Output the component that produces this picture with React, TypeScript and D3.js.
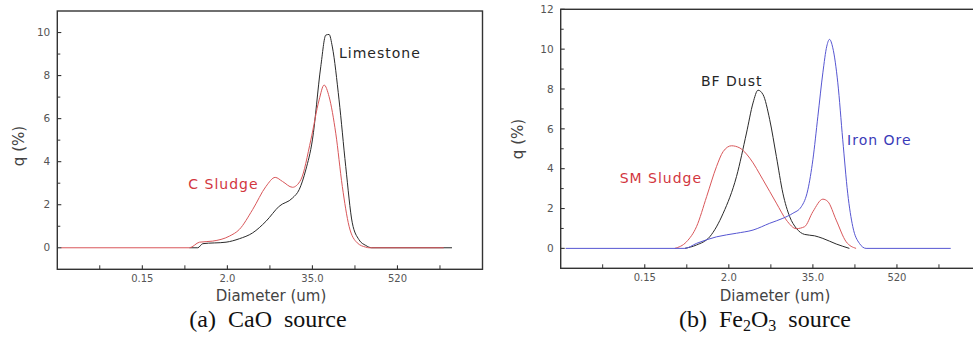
import React from "react";
import * as d3 from "d3";

// ---------- data ----------
const xTickValues = [0.15, 2.0, 35.0, 520];
const xTickLabels = ["0.15", "2.0", "35.0", "520"];
const xMinorTicks = [0.041, 0.548, 8.37, 135, 2004];

// Panel (a) CaO source
const limestoneD = [0.631, 0.812, 0.945, 1.92, 2.99, 4.67, 7.33, 11.45, 17.9, 22.4, 28.0, 35.0, 45.6, 53.5, 59.4, 65.9, 81.5, 100.7, 124, 153, 190, 229, 2935];
const limestoneQ = [0, 0, 0.19, 0.26, 0.42, 0.69, 1.23, 1.93, 2.31, 2.7, 3.62, 5.01, 8.41, 9.88, 9.91, 9.33, 6.87, 3.78, 1.16, 0.38, 0.11, 0, 0];

const cSludgeD = [0.01255, 0.631, 0.855, 1.28, 2.14, 2.99, 4.67, 7.33, 10.0, 12.8, 17.9, 23.7, 33.2, 43.3, 50.7, 59.4, 73.4, 90.4, 112, 145, 190, 210, 2258];
const cSludgeQ = [0, 0, 0.26, 0.31, 0.54, 0.85, 1.77, 2.85, 3.27, 3.08, 2.81, 3.16, 5.01, 6.87, 7.56, 7.02, 5.32, 2.85, 1.0, 0.23, 0.03, 0, 0];

// Panel (b) Fe2O3 source
const bfDustD = [0.515, 0.739, 1.11, 1.68, 2.6, 3.65, 4.56, 5.41, 6.41, 8.05, 10.1, 12.6, 15.9, 19.9, 26.4, 37.0, 48.2, 74.0, 113];
const bfDustQ = [0, 0.17, 0.58, 1.76, 3.61, 5.79, 7.3, 7.94, 7.72, 6.46, 4.61, 2.77, 1.59, 1.01, 0.7, 0.63, 0.5, 0.22, 0];

const smSludgeD = [0.378, 0.543, 0.739, 1.01, 1.37, 1.68, 2.19, 2.91, 4.08, 6.41, 10.1, 14.2, 19.9, 26.4, 35.0, 48.2, 56.6, 74.0, 102, 140];
const smSludgeQ = [0, 0.33, 1.09, 2.6, 4.11, 4.86, 5.15, 5.04, 4.53, 3.44, 2.27, 1.42, 0.99, 1.09, 1.84, 2.47, 2.35, 1.42, 0.33, 0];

const ironOreD = [0.0131, 0.515, 0.739, 1.37, 2.6, 4.56, 8.05, 12.6, 17.7, 23.6, 29.5, 35.0, 41.1, 48.2, 54.7, 59.7, 66.3, 77.9, 91.3, 107, 126, 156, 193, 2923];
const ironOreQ = [0, 0, 0.25, 0.58, 0.76, 0.92, 1.26, 1.51, 1.76, 2.09, 2.94, 4.45, 6.63, 8.81, 10.15, 10.49, 10.07, 8.31, 5.45, 2.77, 1.09, 0.25, 0, 0];

const yTicksA = [0, 2, 4, 6, 8, 10];
const yMinorA = [1, 3, 5, 7, 9];
const yTicksB = [0, 2, 4, 6, 8, 10, 12];
const yMinorB = [1, 3, 5, 7, 9, 11];

const BLACK_LINE = "#2a2a2a";
const RED_LINE = "#d9575a";
const BLUE_LINE = "#5656d2";
const RED_TEXT = "#d2373f";
const BLUE_TEXT = "#3b3bb8";
const BLACK_TEXT = "#262626";

type Series = { d: number[]; q: number[]; color: string };
type Label = { text: string; d: number; q: number; color: string; anchor: string };

function Panel(props: {
  left: number; top: number; width: number; bottom: number;
  yDomain: [number, number]; yTicks: number[]; yMinor: number[];
  series: Series[]; labels: Label[]; yTitleX: number; yTitleY: number; xTitleX: number;
}) {
  const { left, top, width, bottom, yDomain, yTicks, yMinor, series, labels } = props;
  const right = left + width;
  const x = d3.scaleLog()
    .domain(xTickValues)
    .range([0.2, 0.4, 0.6, 0.8].map((f) => left + width * f));
  const y = d3.scaleLinear().domain(yDomain).range([bottom, top]);
  const line = d3.line<[number, number]>()
    .x((p) => x(p[0]))
    .y((p) => y(p[1]))
    .curve(d3.curveMonotoneX);
  const tickFont = "DejaVu Sans, Verdana, sans-serif";
  return (
    <g>
      {series.map((s, i) => (
        <path key={i} d={line(s.d.map((v, k) => [v, s.q[k]] as [number, number])) || ""}
          fill="none" stroke={s.color} strokeWidth={1} />
      ))}
      <rect x={left} y={top} width={width} height={bottom - top} fill="none" stroke="#333" strokeWidth={1.4} />
      {yTicks.map((t) => (
        <g key={"y" + t}>
          <line x1={left} x2={left + 4} y1={y(t)} y2={y(t)} stroke="#333" strokeWidth={1.1} />
          <text x={left - 7} y={y(t)} dy="0.35em" textAnchor="end" fontSize={10.5}
            fontFamily={tickFont} fill="#555">{t}</text>
        </g>
      ))}
      {yMinor.map((t) => (
        <line key={"ym" + t} x1={left} x2={left + 3} y1={y(t)} y2={y(t)} stroke="#333" strokeWidth={1} />
      ))}
      {xTickValues.map((t, i) => (
        <g key={"x" + t}>
          <line x1={x(t)} x2={x(t)} y1={bottom} y2={bottom - 4} stroke="#333" strokeWidth={1.1} />
          <text x={x(t)} y={bottom + 9} dy="0.35em" textAnchor="middle" fontSize={10}
            fontFamily={tickFont} fill="#555">{xTickLabels[i]}</text>
        </g>
      ))}
      {xMinorTicks.map((t) => (
        x(t) < right ? <line key={"xm" + t} x1={x(t)} x2={x(t)} y1={bottom} y2={bottom - 4} stroke="#333" strokeWidth={1} /> : null
      ))}
      {labels.map((l) => (
        <text key={l.text} x={x(l.d)} y={y(l.q)} textAnchor={l.anchor} fontSize={14}
          letterSpacing={1} fontFamily={tickFont} fill={l.color}>{l.text}</text>
      ))}
      <text transform={`translate(${props.yTitleX},${props.yTitleY}) rotate(-90)`} textAnchor="middle"
        dy="0.35em" fontSize={15} fontFamily={tickFont} fill="#444">q (%)</text>
      <text x={props.xTitleX} y={295.5} dy="0.35em" textAnchor="middle" fontSize={15}
        fontFamily={tickFont} fill="#444">Diameter (um)</text>
    </g>
  );
}

export default function App() {
  const serif = "Liberation Serif, Times New Roman, serif";
  return (
    <svg width={973} height={340} style={{ position: "absolute", left: 0, top: 0, background: "#fff" }}>
      <rect width={973} height={340} fill="#fff" />
      <Panel left={57.3} top={11} width={425.2} bottom={269.3} yDomain={[-1, 11]}
        yTicks={yTicksA} yMinor={yMinorA} yTitleX={18.5} yTitleY={146} xTitleX={271}
        series={[
          { d: limestoneD, q: limestoneQ, color: BLACK_LINE },
          { d: cSludgeD, q: cSludgeQ, color: RED_LINE },
        ]}
        labels={[
          { text: "Limestone", d: 81.5, q: 8.8, color: BLACK_TEXT, anchor: "start" },
          { text: "C Sludge", d: 5.72, q: 2.72, color: RED_TEXT, anchor: "end" },
        ]} />
      <Panel left={560.7} top={9.3} width={420.3} bottom={268.3} yDomain={[-1, 12]}
        yTicks={yTicksB} yMinor={yMinorB} yTitleX={517.5} yTitleY={139} xTitleX={775}
        series={[
          { d: bfDustD, q: bfDustQ, color: BLACK_LINE },
          { d: smSludgeD, q: smSludgeQ, color: RED_LINE },
          { d: ironOreD, q: ironOreQ, color: BLUE_LINE },
        ]}
        labels={[
          { text: "BF Dust", d: 2.21, q: 8.17, color: BLACK_TEXT, anchor: "middle" },
          { text: "SM Sludge", d: 0.878, q: 3.26, color: RED_TEXT, anchor: "end" },
          { text: "Iron Ore", d: 105, q: 5.2, color: BLUE_TEXT, anchor: "start" },
        ]} />
      <text x={268} y={327} textAnchor="middle" fontSize={24} fontFamily={serif} fill="#111"
        style={{ whiteSpace: "pre" }}>{"(a)  CaO  source"}</text>
      <text x={765} y={327} textAnchor="middle" fontSize={24} fontFamily={serif} fill="#111"
        style={{ whiteSpace: "pre" }}>
        {"(b)  Fe"}<tspan fontSize={16} dy={4}>2</tspan><tspan dy={-4}>O</tspan>
        <tspan fontSize={16} dy={4}>3</tspan><tspan dy={-4}>{"  source"}</tspan>
      </text>
    </svg>
  );
}
